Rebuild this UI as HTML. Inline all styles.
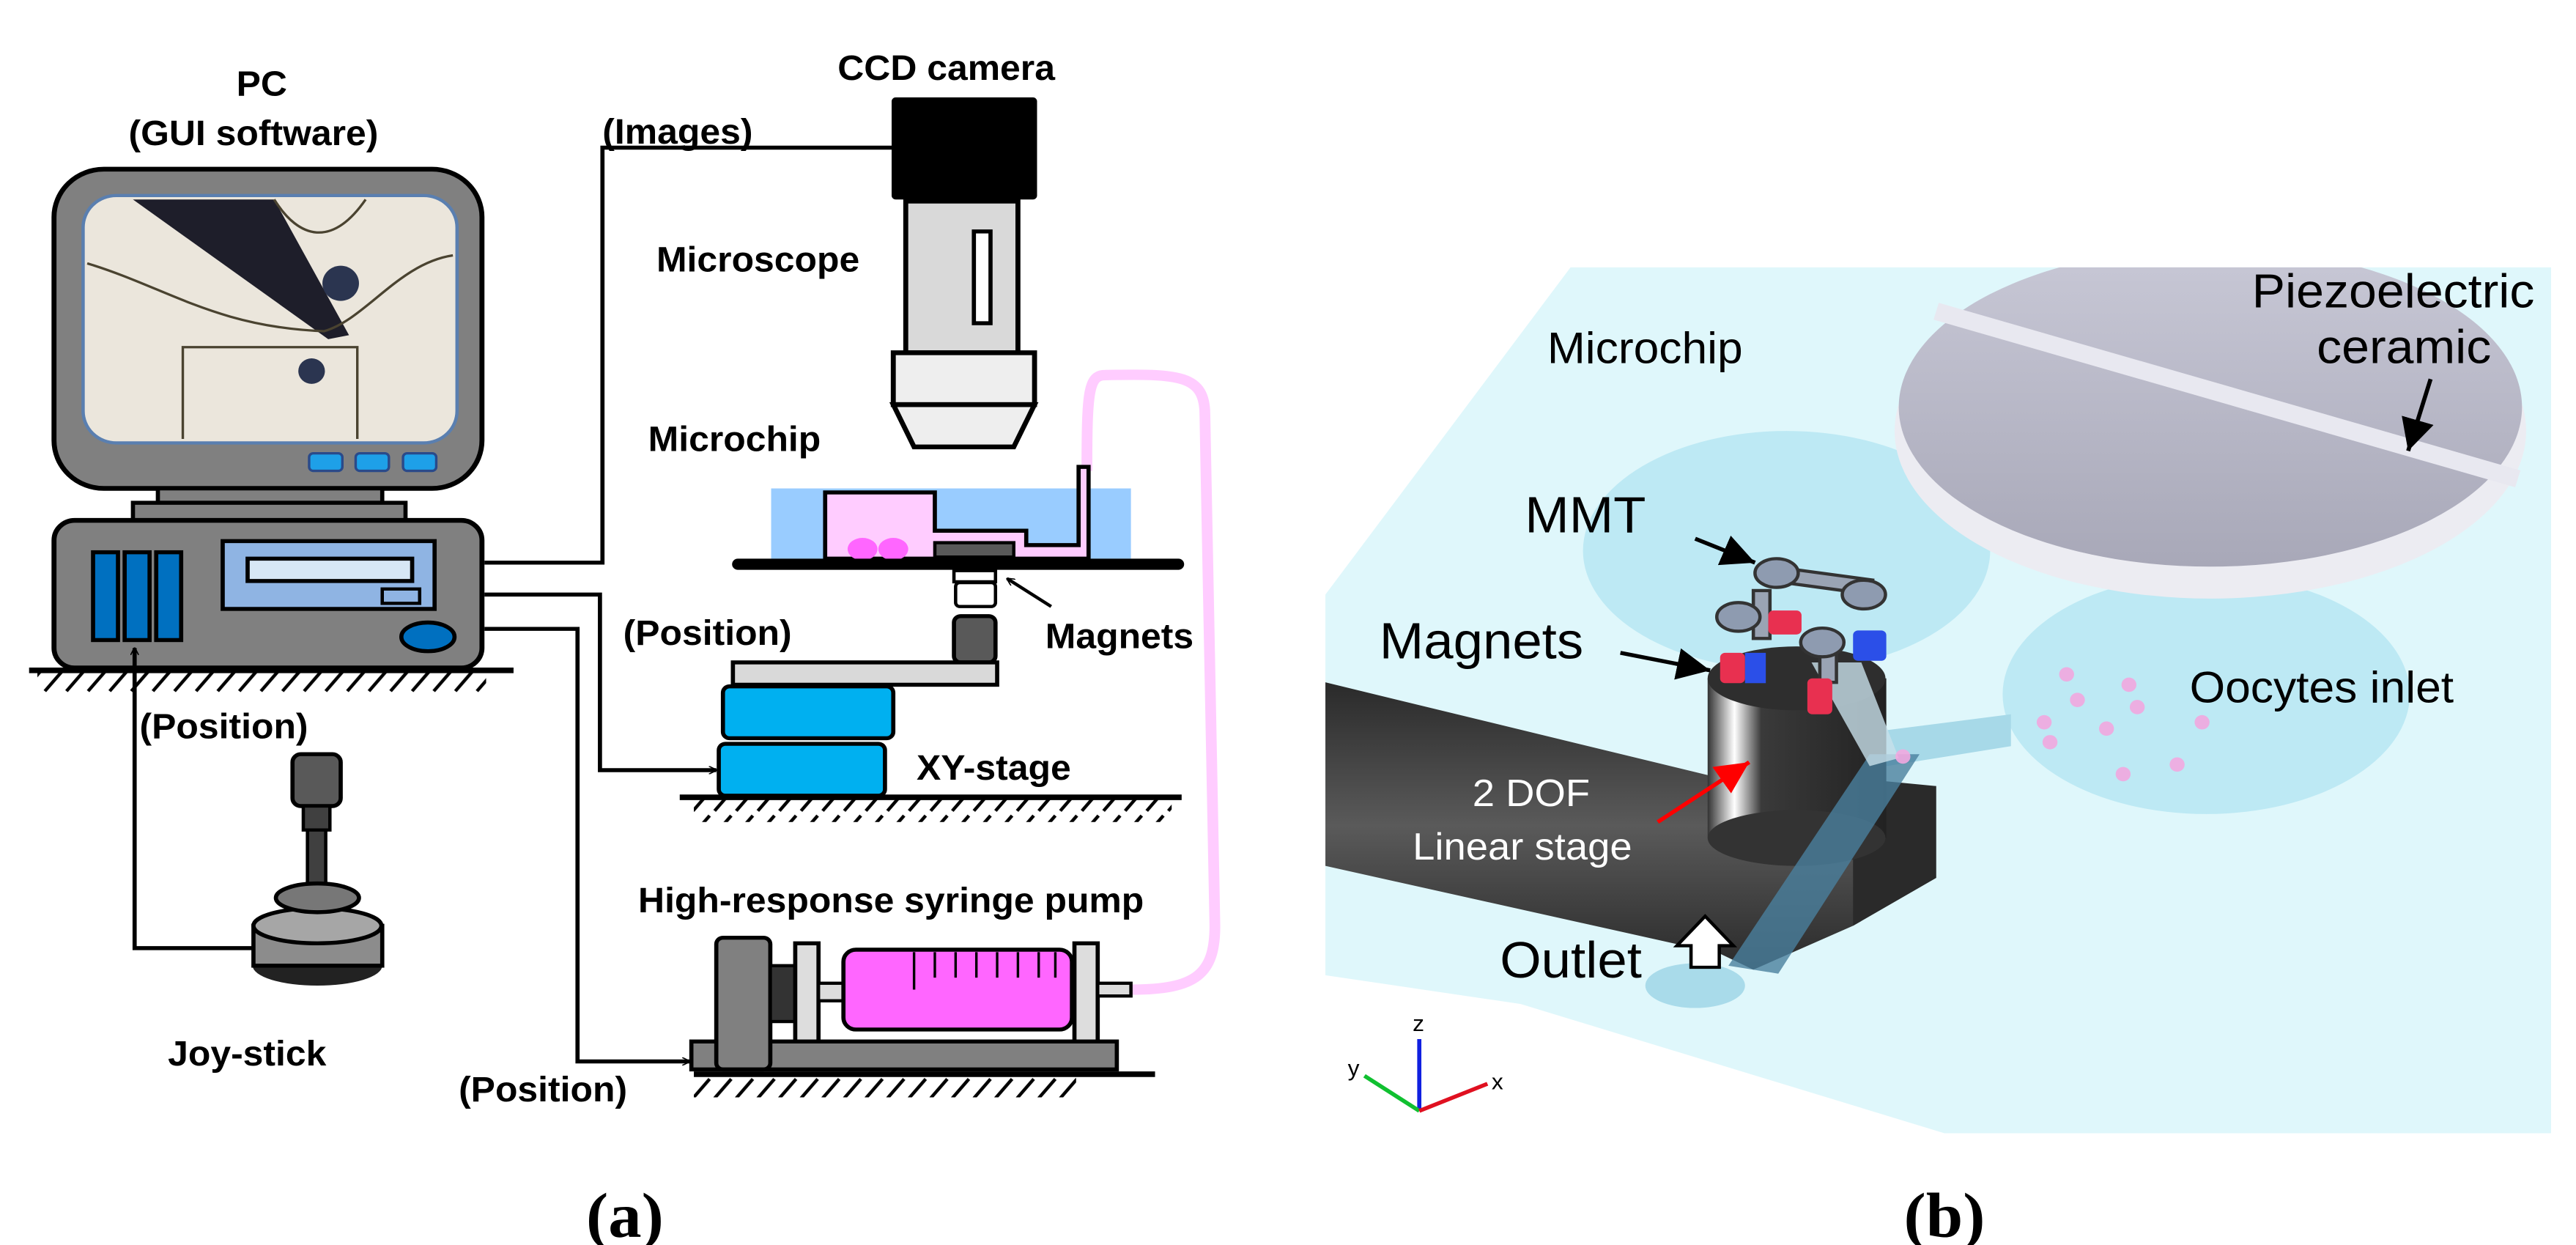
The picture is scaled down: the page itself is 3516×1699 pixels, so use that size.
<!DOCTYPE html>
<html><head><meta charset="utf-8"><style>
html,body{margin:0;padding:0;background:#fff;}
.w{position:relative;width:3516px;height:1699px;overflow:hidden;}
svg{position:absolute;top:0;}
.t{font-family:"Liberation Sans",Arial,sans-serif;font-weight:bold;}
.n{font-family:"Liberation Sans",Arial,sans-serif;}
.s{font-family:"Liberation Serif",serif;font-weight:bold;}
</style></head><body><div class="w">
<svg style="left:0" width="1758" height="1699" viewBox="0 0 1550 1560" preserveAspectRatio="none">
<defs>
<pattern id="h" width="26" height="30" patternUnits="userSpaceOnUse"><line x1="22" y1="2" x2="2" y2="26" stroke="#000" stroke-width="4"/></pattern>
<marker id="ar" markerWidth="10" markerHeight="10" refX="9" refY="5" orient="auto" markerUnits="userSpaceOnUse" viewBox="0 0 10 10"><path d="M0,0 L10,5 L0,10" fill="none" stroke="#000" stroke-width="1.5"/></marker>
</defs>
<g class="t" font-size="44" fill="#000">
<text x="315" y="120" text-anchor="middle">PC</text>
<text x="305" y="182" text-anchor="middle">(GUI software)</text>
<text x="1008" y="100">CCD camera</text>
<text x="725" y="180">(Images)</text>
<text x="790" y="340">Microscope</text>
<text x="780" y="565">Microchip</text>
<text x="750" y="808">(Position)</text>
<text x="1258" y="812">Magnets</text>
<text x="1103" y="977">XY-stage</text>
<text x="168" y="925">(Position)</text>
<text x="202" y="1335">Joy-stick</text>
<text x="768" y="1143">High-response syringe pump</text>
<text x="552" y="1380">(Position)</text>
</g>
<text class="s" x="752" y="1550" font-size="80" text-anchor="middle">(a)</text>
<path d="M1362,1240 C1440,1240 1462,1220 1462,1160 L1450,520 C1450,470 1420,468 1330,470 C1310,470 1308,490 1308,590" fill="none" stroke="#ffccff" stroke-width="13"/>
<rect x="65" y="212" width="515" height="400" rx="60" fill="#808080" stroke="#000" stroke-width="6"/>
<rect x="100" y="245" width="450" height="310" rx="40" fill="#ebe6dc" stroke="#5a7fb0" stroke-width="4"/>
<path d="M160,250 L330,250 L420,420 L395,425 Z" fill="#1e1e2a"/>
<circle cx="410" cy="355" r="22" fill="#2b3550"/>
<circle cx="375" cy="465" r="16" fill="#2b3550"/>
<path d="M105,330 C200,360 260,410 390,415 C440,400 480,330 545,320" fill="none" stroke="#4a4330" stroke-width="3"/>
<path d="M220,550 L220,435 L430,435 L430,550" fill="none" stroke="#4a4330" stroke-width="3"/>
<path d="M330,250 C360,300 400,310 440,250" fill="none" stroke="#4a4330" stroke-width="3"/>
<g fill="#1ea0e8" stroke="#2a4a8a" stroke-width="3"><rect x="372" y="568" width="40" height="22" rx="5"/><rect x="428" y="568" width="40" height="22" rx="5"/><rect x="485" y="568" width="40" height="22" rx="5"/></g>
<rect x="190" y="612" width="270" height="18" fill="#808080" stroke="#000" stroke-width="5"/>
<rect x="160" y="630" width="328" height="22" fill="#808080" stroke="#000" stroke-width="5"/>
<rect x="65" y="652" width="515" height="185" rx="25" fill="#808080" stroke="#000" stroke-width="6"/>
<g fill="#0070c0" stroke="#000" stroke-width="5"><rect x="112" y="692" width="30" height="110"/><rect x="150" y="692" width="30" height="110"/><rect x="188" y="692" width="30" height="110"/></g>
<rect x="268" y="678" width="255" height="85" fill="#8fb4e3" stroke="#000" stroke-width="5"/>
<rect x="298" y="700" width="198" height="28" fill="#d7e7f5" stroke="#000" stroke-width="5"/>
<rect x="460" y="738" width="45" height="18" fill="#8fb4e3" stroke="#000" stroke-width="4"/>
<ellipse cx="515" cy="798" rx="32" ry="18" fill="#0070c0" stroke="#000" stroke-width="5"/>
<line x1="35" y1="840" x2="618" y2="840" stroke="#000" stroke-width="7"/>
<rect x="45" y="843" width="540" height="26" fill="url(#h)"/>
<path d="M310,1188 L162,1188 L162,812" fill="none" stroke="#000" stroke-width="5" marker-end="url(#ar)"/>
<rect x="352" y="945" width="58" height="65" rx="10" fill="#595959" stroke="#000" stroke-width="5"/>
<rect x="365" y="1010" width="32" height="30" fill="#404040" stroke="#000" stroke-width="4"/>
<rect x="370" y="1040" width="22" height="80" fill="#404040" stroke="#000" stroke-width="4"/>
<ellipse cx="382" cy="1210" rx="78" ry="25" fill="#222"/>
<rect x="305" y="1160" width="155" height="50" fill="#8c8c8c" stroke="#000" stroke-width="5"/>
<ellipse cx="382" cy="1160" rx="77" ry="22" fill="#a6a6a6" stroke="#000" stroke-width="5"/>
<ellipse cx="382" cy="1125" rx="50" ry="18" fill="#777" stroke="#000" stroke-width="5"/>
<path d="M583,705 L725,705 L725,185 L1075,185" fill="none" stroke="#000" stroke-width="5"/>
<path d="M583,745 L722,745 L722,965 L862,965" fill="none" stroke="#000" stroke-width="5" marker-end="url(#ar)"/>
<path d="M583,788 L695,788 L695,1330 L830,1330" fill="none" stroke="#000" stroke-width="5" marker-end="url(#ar)"/>
<rect x="1073" y="122" width="175" height="128" rx="5" fill="#000"/>
<rect x="1090" y="252" width="135" height="190" fill="#d9d9d9" stroke="#000" stroke-width="6"/>
<rect x="1172" y="290" width="20" height="115" fill="#fff" stroke="#000" stroke-width="5"/>
<rect x="1075" y="442" width="170" height="65" fill="#eee" stroke="#000" stroke-width="6"/>
<path d="M1075,507 L1245,507 L1220,560 L1100,560 Z" fill="#eee" stroke="#000" stroke-width="6"/>
<rect x="928" y="612" width="433" height="88" fill="#99ccff"/>
<path d="M993,700 L993,617 L1125,617 L1125,665 L1235,665 L1235,683 L1298,683 L1298,585 L1310,585 L1310,700 Z" fill="#ffccff" stroke="#000" stroke-width="5"/>
<ellipse cx="1038" cy="688" rx="18" ry="14" fill="#ff66ff"/><ellipse cx="1075" cy="688" rx="18" ry="14" fill="#ff66ff"/>
<rect x="1125" y="680" width="95" height="18" fill="#595959" stroke="#000" stroke-width="4"/>
<line x1="888" y1="707" x2="1418" y2="707" stroke="#000" stroke-width="14" stroke-linecap="round"/>
<rect x="1148" y="715" width="50" height="14" fill="#fff" stroke="#000" stroke-width="4"/>
<rect x="1150" y="730" width="48" height="30" rx="5" fill="#fff" stroke="#000" stroke-width="4"/>
<path d="M1265,760 L1212,725" stroke="#000" stroke-width="4" marker-end="url(#ar)"/>
<rect x="1148" y="772" width="50" height="58" rx="8" fill="#595959" stroke="#000" stroke-width="5"/>
<rect x="882" y="830" width="318" height="28" fill="#d9d9d9" stroke="#000" stroke-width="5"/>
<rect x="870" y="860" width="205" height="65" rx="8" fill="#00b0f0" stroke="#000" stroke-width="5"/>
<rect x="865" y="932" width="200" height="65" rx="8" fill="#00b0f0" stroke="#000" stroke-width="5"/>
<line x1="818" y1="999" x2="1422" y2="999" stroke="#000" stroke-width="7"/>
<rect x="835" y="1002" width="575" height="28" fill="url(#h)"/>
<rect x="832" y="1305" width="512" height="35" fill="#808080" stroke="#000" stroke-width="5"/>
<rect x="862" y="1175" width="65" height="165" rx="8" fill="#808080" stroke="#000" stroke-width="5"/>
<rect x="927" y="1210" width="30" height="70" fill="#333" stroke="#000" stroke-width="4"/>
<rect x="957" y="1182" width="28" height="123" fill="#ddd" stroke="#000" stroke-width="5"/>
<rect x="985" y="1232" width="30" height="22" fill="#ddd" stroke="#000" stroke-width="4"/>
<rect x="1015" y="1190" width="275" height="100" rx="15" fill="#ff66ff" stroke="#000" stroke-width="5"/>
<g stroke="#000" stroke-width="3"><line x1="1100" y1="1193" x2="1100" y2="1240"/><line x1="1125" y1="1193" x2="1125" y2="1225"/><line x1="1150" y1="1193" x2="1150" y2="1225"/><line x1="1175" y1="1193" x2="1175" y2="1225"/><line x1="1200" y1="1193" x2="1200" y2="1225"/><line x1="1225" y1="1193" x2="1225" y2="1225"/><line x1="1250" y1="1193" x2="1250" y2="1225"/><line x1="1270" y1="1193" x2="1270" y2="1225"/></g>
<rect x="1293" y="1182" width="28" height="123" fill="#ddd" stroke="#000" stroke-width="5"/>
<rect x="1321" y="1232" width="40" height="16" fill="#ddd" stroke="#000" stroke-width="4"/>
<line x1="835" y1="1346" x2="1390" y2="1346" stroke="#000" stroke-width="7"/>
<rect x="835" y="1349" width="460" height="26" fill="url(#h)"/>
</svg>

<svg style="left:1758px" width="1758" height="1699" viewBox="0 0 1550 1560" preserveAspectRatio="none">
<defs>
<linearGradient id="bar" x1="0" y1="0" x2="0" y2="1"><stop offset="0" stop-color="#2a2a2a"/><stop offset="0.5" stop-color="#5a5a5a"/><stop offset="1" stop-color="#2a2a2a"/></linearGradient>
<linearGradient id="cyl" x1="0" y1="0" x2="1" y2="0"><stop offset="0" stop-color="#333"/><stop offset="0.15" stop-color="#fff"/><stop offset="0.3" stop-color="#3a3a3a"/><stop offset="1" stop-color="#222"/></linearGradient>
<linearGradient id="pz" x1="0" y1="0" x2="0" y2="1"><stop offset="0" stop-color="#c8c8d6"/><stop offset="1" stop-color="#a8a8b8"/></linearGradient>
<clipPath id="cp"><rect x="0" y="335" width="1550" height="1200"/></clipPath>
<marker id="ba" markerWidth="40" markerHeight="40" refX="30" refY="15" orient="auto" markerUnits="userSpaceOnUse" viewBox="0 0 30 30"><path d="M0,0 L30,15 L0,30 Z" fill="#000"/></marker>
<marker id="ra" markerWidth="40" markerHeight="40" refX="30" refY="15" orient="auto" markerUnits="userSpaceOnUse" viewBox="0 0 30 30"><path d="M0,0 L30,15 L0,30 Z" fill="#f00"/></marker>
</defs>
<polygon points="45,745 340,335 1520,335 1520,1420 790,1420 280,1258 45,1222" fill="#dff7fb"/>
<ellipse cx="600" cy="690" rx="245" ry="150" fill="#bde9f4"/>
<ellipse cx="1105" cy="870" rx="245" ry="150" fill="#bde9f4"/>
<g clip-path="url(#cp)">
<ellipse cx="1110" cy="540" rx="380" ry="210" fill="#ececf2"/>
<ellipse cx="1110" cy="510" rx="375" ry="200" fill="url(#pz)"/>
<path d="M780,390 L1480,600" stroke="#e8e8f0" stroke-width="22"/>
</g>
<polygon points="720,915 870,895 870,935 720,960" fill="#a7d9e8"/>
<ellipse cx="490" cy="1235" rx="60" ry="28" fill="#a9dbea"/>
<polygon points="45,855 520,975 780,985 780,1100 680,1160 560,1215 520,1195 45,1085" fill="url(#bar)"/>
<polygon points="680,975 780,985 780,1100 680,1160" fill="#2a2a2a"/>
<rect x="505" y="850" width="215" height="200" fill="url(#cyl)"/>
<ellipse cx="612" cy="1050" rx="107" ry="35" fill="#333"/>
<ellipse cx="612" cy="850" rx="107" ry="40" fill="#2e2e2e"/>
<polygon points="700,945 760,945 590,1220 530,1210" fill="#4a7f9e" opacity="0.8"/>
<polygon points="630,830 690,830 735,950 700,960" fill="#c8e0ea" opacity="0.8"/>
<g stroke="#333" stroke-width="4">
<rect x="578" y="718" width="125" height="18" fill="#9aa4b4" transform="rotate(8 640 727)"/>
<rect x="560" y="740" width="20" height="60" fill="#9aa4b4"/>
<rect x="640" y="795" width="20" height="60" fill="#9aa4b4"/>
</g>
<g stroke="#333" stroke-width="4" fill="#8e9bb0">
<ellipse cx="588" cy="718" rx="26" ry="18"/><ellipse cx="693" cy="745" rx="26" ry="18"/>
<ellipse cx="542" cy="773" rx="26" ry="18"/><ellipse cx="643" cy="805" rx="26" ry="18"/>
</g>
<g>
<rect x="520" y="818" width="30" height="38" fill="#e83050" rx="6"/><rect x="550" y="818" width="25" height="38" fill="#2b4fe8"/>
<rect x="680" y="790" width="40" height="38" fill="#2b4fe8" rx="6"/>
<rect x="625" y="850" width="30" height="45" fill="#e83050" rx="6"/>
<rect x="578" y="765" width="40" height="30" fill="#e83050" rx="6"/>
</g>
<g fill="#f2a8e0" opacity="0.9">
<circle cx="740" cy="948" r="9"/><circle cx="937" cy="845" r="9"/><circle cx="1012" cy="858" r="9"/><circle cx="950" cy="877" r="9"/><circle cx="1022" cy="886" r="9"/><circle cx="910" cy="905" r="9"/><circle cx="985" cy="913" r="9"/><circle cx="917" cy="930" r="9"/><circle cx="1100" cy="905" r="9"/><circle cx="1070" cy="958" r="9"/><circle cx="1005" cy="970" r="9"/>
</g>
<g class="n" fill="#000">
<text x="1160" y="385" font-size="60">Piezoelectric</text>
<text x="1238" y="455" font-size="60">ceramic</text>
<text x="312" y="455" font-size="55">Microchip</text>
<text x="285" y="667" font-size="64">MMT</text>
<text x="110" y="825" font-size="64">Magnets</text>
<text x="1085" y="880" font-size="55">Oocytes inlet</text>
<text x="255" y="1225" font-size="64">Outlet</text>
<text x="222" y="1010" font-size="48" fill="#fff">2 DOF</text>
<text x="150" y="1077" font-size="48" fill="#fff">Linear stage</text>
<text x="150" y="1292" font-size="28">z</text>
<text x="72" y="1348" font-size="28">y</text>
<text x="245" y="1365" font-size="28">x</text>
</g>
<line x1="1375" y1="475" x2="1348" y2="565" stroke="#000" stroke-width="5" marker-end="url(#ba)"/>
<line x1="490" y1="675" x2="562" y2="705" stroke="#000" stroke-width="5" marker-end="url(#ba)"/>
<line x1="400" y1="818" x2="508" y2="840" stroke="#000" stroke-width="5" marker-end="url(#ba)"/>
<line x1="445" y1="1030" x2="555" y2="955" stroke="#f00" stroke-width="5" marker-end="url(#ra)"/>
<path d="M485,1212 L485,1185 L468,1185 L502,1148 L536,1185 L519,1185 L519,1212 Z" fill="#fff" stroke="#000" stroke-width="4"/>
<line x1="158" y1="1392" x2="158" y2="1302" stroke="#1020e0" stroke-width="5"/>
<line x1="158" y1="1392" x2="92" y2="1348" stroke="#10c030" stroke-width="5"/>
<line x1="158" y1="1392" x2="240" y2="1358" stroke="#e01020" stroke-width="5"/>
<text class="s" x="790" y="1550" font-size="80" text-anchor="middle">(b)</text>
</svg>
</div></body></html>
